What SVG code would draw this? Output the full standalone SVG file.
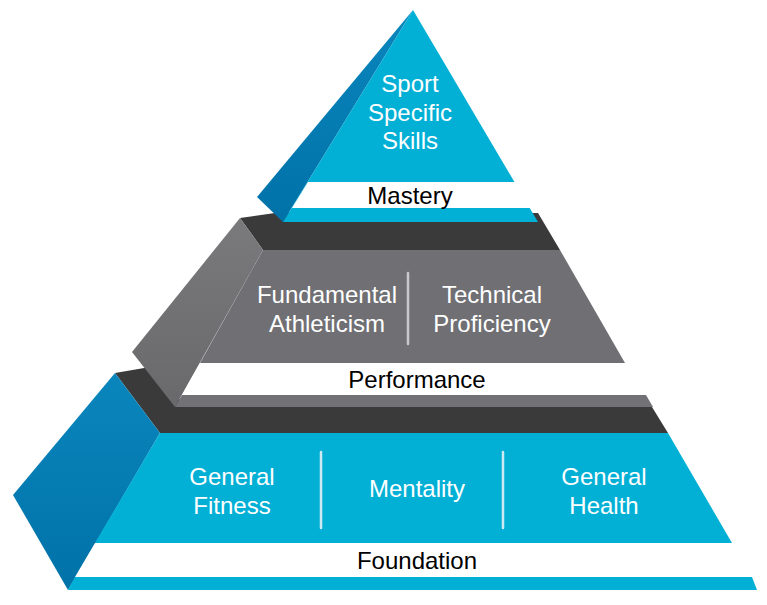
<svg xmlns="http://www.w3.org/2000/svg" width="767" height="605" viewBox="0 0 767 605">
<defs>
<linearGradient id="blueSide" x1="0" y1="0" x2="0" y2="1">
<stop offset="0" stop-color="#0a86bd"/>
<stop offset="1" stop-color="#0072a8"/>
</linearGradient>
<linearGradient id="graySide" x1="0" y1="0" x2="0" y2="1">
<stop offset="0" stop-color="#7a7a7c"/>
<stop offset="1" stop-color="#69696b"/>
</linearGradient>
<style>
.cyan{fill:#02b0d6}
.gray{fill:#6f6f74}
.strip-gray{fill:#727276}
.dark{fill:#3a3a3b}
.band{fill:#ffffff}
.sep-c{stroke:#cdeaf3;stroke-width:2.5;stroke-linecap:round}
.sep-g{stroke:#c9c9cc;stroke-width:2.5;stroke-linecap:round}
text{font-family:"Liberation Sans",Arial,Helvetica,sans-serif;font-size:24px;text-anchor:middle}
.w{fill:#ffffff}
.k{fill:#000000}
</style>
</defs>
<rect width="767" height="605" fill="#ffffff"/>

<g id="tier-foundation">
<polygon class="dark" points="115,373 150,367 182,402 652,407 668,433 160,433"/>
<polygon fill="url(#blueSide)" points="115,373 13,495 68,590 160,433"/>
<polygon class="cyan" points="160,433 668,433 732,543 95,543"/>
<polygon class="band" points="95,543 732,543 752,577 75,577"/>
<polygon class="cyan" points="75,577 752,577 757,590 68,590"/>
<line class="sep-c" x1="321" y1="452" x2="321" y2="528"/>
<line class="sep-c" x1="503" y1="452" x2="503" y2="528"/>
<text class="w" x="232" y="485">General</text>
<text class="w" x="232" y="514">Fitness</text>
<text class="w" x="417" y="497">Mentality</text>
<text class="w" x="604" y="485">General</text>
<text class="w" x="604" y="514">Health</text>
<text class="k" x="417" y="569">Foundation</text>
</g>

<g id="tier-performance">
<polygon class="dark" points="240,218 282,212 538,213 560,250 263,250"/>
<polygon fill="url(#graySide)" points="240,218 132,352 175,407 263,250"/>
<polygon class="gray" points="263,250 560,250 625,363 200,363"/>
<polygon class="band" points="200,363 625,363 644,395 182,395"/>
<polygon class="strip-gray" points="182,395 646,395 653,407 175,407"/>
<line class="sep-g" x1="408" y1="273" x2="408" y2="344"/>
<text class="w" x="327" y="303">Fundamental</text>
<text class="w" x="327" y="332">Athleticism</text>
<text class="w" x="492" y="303">Technical</text>
<text class="w" x="492" y="332">Proficiency</text>
<text class="k" x="417" y="388">Performance</text>
</g>

<g id="tier-mastery">
<polygon fill="url(#blueSide)" points="413,10 257,197 283,222"/>
<polygon class="cyan" points="413,10 538,222 283,222"/>
<polygon class="band" points="308,182 516,182 531,208 292,208"/>
<text class="w" x="410" y="92">Sport</text>
<text class="w" x="410" y="121">Specific</text>
<text class="w" x="410" y="149">Skills</text>
<text class="k" x="410" y="204">Mastery</text>
</g>
</svg>
